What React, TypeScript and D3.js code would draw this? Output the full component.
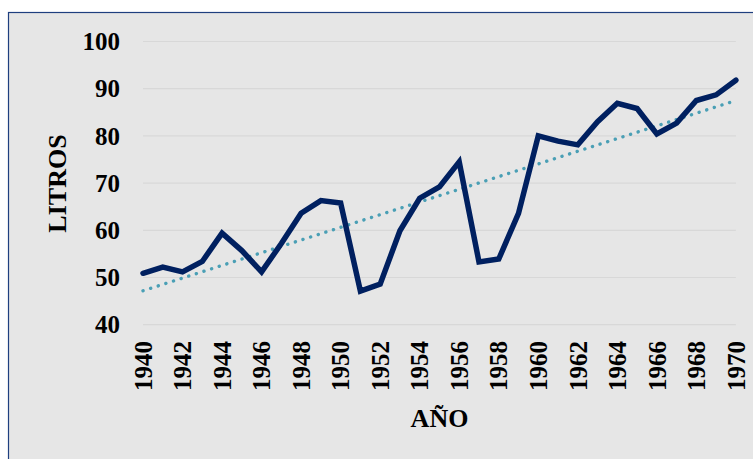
import { useEffect, useRef } from "react";
import * as d3 from "d3";

// años y litros
const years = d3.range(1940, 1971);
const litros = [
  50.9, 52.2, 51.2, 53.4, 59.4, 55.7, 51.2, 57.2, 63.6, 66.3, 65.8, 47.1, 48.6,
  59.9, 66.8, 69.2, 74.5, 53.3, 53.9, 63.6, 80.0, 78.9, 78.1, 83.0, 86.9, 85.8,
  80.4, 82.7, 87.5, 88.7, 91.8,
];
const yTicks = [40, 50, 60, 70, 80, 90, 100];
const xTicks = d3.range(1940, 1971, 2);

const W = 753;
const H = 459;
const FONT = "'Liberation Serif', 'Times New Roman', serif";

const App = () => {
  const ref = useRef<SVGSVGElement>(null);

  useEffect(() => {
    const svg = d3.select(ref.current);
    svg.selectAll("*").remove();

    const x = d3.scaleLinear().domain([1940, 1970]).range([143, 735.9]);
    const y = d3.scaleLinear().domain([40, 100]).range([324.7, 41.5]);

    // marco del gráfico
    svg
      .append("rect")
      .attr("x", 8.5)
      .attr("y", 12.5)
      .attr("width", 800)
      .attr("height", 500)
      .attr("fill", "#e6e6e6")
      .attr("stroke", "#1f3f7f")
      .attr("stroke-width", 1.2);

    // grid
    svg
      .append("g")
      .selectAll("line")
      .data(yTicks)
      .enter()
      .append("line")
      .attr("x1", 143)
      .attr("x2", 735.9)
      .attr("y1", (d) => y(d))
      .attr("y2", (d) => y(d))
      .attr("stroke", "#d8d8d8")
      .attr("stroke-width", 1.2);

    // etiquetas eje y
    svg
      .append("g")
      .selectAll("text")
      .data(yTicks)
      .enter()
      .append("text")
      .attr("x", 120)
      .attr("y", (d) => y(d))
      .attr("dy", "0.35em")
      .attr("text-anchor", "end")
      .attr("font-family", FONT)
      .attr("font-weight", "bold")
      .attr("font-size", 25)
      .attr("fill", "#000")
      .text((d) => d);

    // etiquetas eje x (verticales)
    svg
      .append("g")
      .selectAll("text")
      .data(xTicks)
      .enter()
      .append("text")
      .attr("transform", (d) => `translate(${x(d)}, 341) rotate(-90)`)
      .attr("dy", "0.35em")
      .attr("text-anchor", "end")
      .attr("font-family", FONT)
      .attr("font-weight", "bold")
      .attr("font-size", 25)
      .attr("fill", "#000")
      .text((d) => d);

    // línea de tendencia (regresión lineal)
    const mx = d3.mean(years)!;
    const my = d3.mean(litros)!;
    const slope =
      d3.sum(years, (yr, i) => (yr - mx) * (litros[i] - my)) /
      d3.sum(years, (yr) => (yr - mx) ** 2);
    const trend = [1940, 1970].map((yr) => [yr, my + slope * (yr - mx)]);

    svg
      .append("path")
      .datum(trend)
      .attr(
        "d",
        d3
          .line<number[]>()
          .x((d) => x(d[0]))
          .y((d) => y(d[1]))
      )
      .attr("fill", "none")
      .attr("stroke", "#4a9fb5")
      .attr("stroke-width", 3.4)
      .attr("stroke-linecap", "round")
      .attr("stroke-dasharray", "0.1 7.9");

    // serie principal
    svg
      .append("path")
      .datum(litros)
      .attr(
        "d",
        d3
          .line<number>()
          .x((d, i) => x(years[i]))
          .y((d) => y(d))
      )
      .attr("fill", "none")
      .attr("stroke", "#002060")
      .attr("stroke-width", 5.5)
      .attr("stroke-linejoin", "miter")
      .attr("stroke-linecap", "round");

    // títulos de ejes
    svg
      .append("text")
      .attr("x", 439.5)
      .attr("y", 426.5)
      .attr("text-anchor", "middle")
      .attr("font-family", FONT)
      .attr("font-weight", "bold")
      .attr("font-size", 26)
      .attr("fill", "#000")
      .text("AÑO");

    svg
      .append("text")
      .attr("transform", "translate(66, 183.5) rotate(-90)")
      .attr("text-anchor", "middle")
      .attr("font-family", FONT)
      .attr("font-weight", "bold")
      .attr("font-size", 26)
      .attr("fill", "#000")
      .text("LITROS");
  }, []);

  return (
    <svg
      ref={ref}
      width={W}
      height={H}
      style={{ position: "absolute", left: 0, top: 0, background: "#fff" }}
    ></svg>
  );
};

export default App;
